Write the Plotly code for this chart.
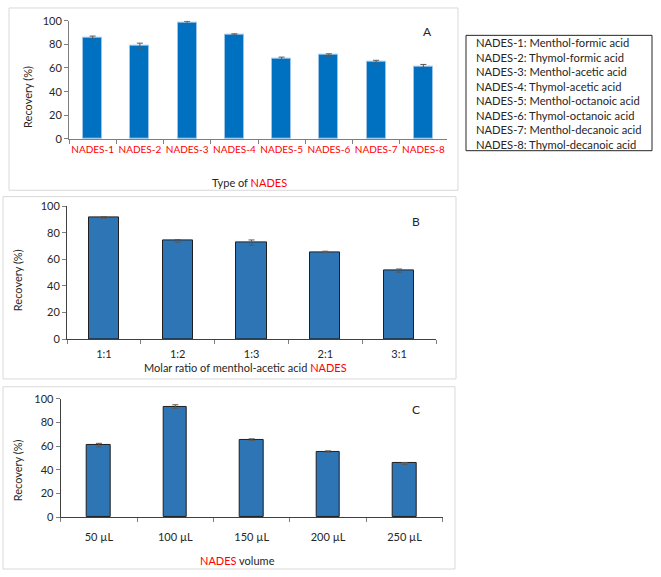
import plotly.graph_objects as go

W, H = 661, 577

# ---------------- data ----------------
nades_types = ["NADES-1", "NADES-2", "NADES-3", "NADES-4", "NADES-5", "NADES-6", "NADES-7", "NADES-8"]
recovery_a = [85.5, 78.5, 98.5, 88.3, 68.2, 71.0, 65.0, 61.0]
error_a = [1.5, 2.5, 1.0, 0.6, 1.0, 1.0, 1.5, 2.0]

molar_ratios = ["1:1", "1:2", "1:3", "2:1", "3:1"]
recovery_b = [91.7, 74.0, 72.7, 65.7, 51.6]
error_b = [0.6, 1.0, 2.0, 0.5, 1.2]

volumes = ["50 µL", "100 µL", "150 µL", "200 µL", "250 µL"]
recovery_c = [61.0, 93.6, 65.6, 55.5, 45.5]
error_c = [1.5, 1.5, 0.7, 0.6, 0.8]

legend_lines = [
    "NADES-1: Menthol-formic acid",
    "NADES-2: Thymol-formic acid",
    "NADES-3: Menthol-acetic acid",
    "NADES-4: Thymol-acetic acid",
    "NADES-5: Menthol-octanoic acid",
    "NADES-6: Thymol-octanoic acid",
    "NADES-7: Menthol-decanoic acid",
    "NADES-8: Thymol-decanoic acid",
]

FONT = "Lato, Carlito, 'Open Sans', sans-serif"
RED = "#FF0000"
TXT = "#262626"


def px(x):
    return x / W


def py(y):
    return 1 - y / H


fig = go.Figure()

# Panel A
fig.add_trace(go.Bar(
    x=nades_types, y=recovery_a, xaxis="x", yaxis="y", width=0.4,
    marker=dict(color="#0070C0", line=dict(color="#9DC3E6", width=1)),
    error_y=dict(type="data", array=error_a, color="#595959", thickness=1, width=3),
    showlegend=False,
))
# Panel B
fig.add_trace(go.Bar(
    x=molar_ratios, y=recovery_b, xaxis="x2", yaxis="y2", width=0.41,
    marker=dict(color="#2E75B6", line=dict(color="#1F1F1F", width=1)),
    error_y=dict(type="data", array=error_b, color="#595959", thickness=1, width=3),
    showlegend=False,
))
# Panel C
fig.add_trace(go.Bar(
    x=volumes, y=recovery_c, xaxis="x3", yaxis="y3", width=0.31,
    marker=dict(color="#2E75B6", line=dict(color="#1F1F1F", width=1)),
    error_y=dict(type="data", array=error_c, color="#595959", thickness=1, width=3),
    showlegend=False,
))

axis_common_x = dict(showline=True, linecolor="#7F7F7F", linewidth=1, ticks="outside",
                     tickson="boundaries", ticklen=4, tickcolor="#7F7F7F", tickangle=0,
                     showgrid=False, zeroline=False, fixedrange=True)
axis_common_y = dict(showline=True, linecolor="#7F7F7F", linewidth=1, ticks="outside",
                     ticklen=4, tickcolor="#7F7F7F", range=[0, 100], dtick=20,
                     showgrid=False, zeroline=False, fixedrange=True,
                     tickfont=dict(family=FONT, size=11, color=TXT))

layout = dict(
    width=W, height=H,
    margin=dict(l=0, r=0, t=0, b=0),
    paper_bgcolor="white", plot_bgcolor="white",
    bargap=0.0,
    font=dict(family=FONT, size=11, color=TXT),
    xaxis=dict(domain=[px(69), px(447)], anchor="y", ticklabelstandoff=1,
               tickfont=dict(family=FONT, size=10, color=RED), **axis_common_x),
    yaxis=dict(domain=[py(135), py(14)], anchor="x", **axis_common_y),
    xaxis2=dict(domain=[px(67), px(436)], anchor="y2", ticklabelstandoff=5,
                tickfont=dict(family=FONT, size=11, color=TXT), **axis_common_x),
    yaxis2=dict(domain=[py(339.7), py(204)], anchor="x2", **axis_common_y),
    xaxis3=dict(domain=[px(60.7), px(442.7)], anchor="y3", ticklabelstandoff=10,
                tickfont=dict(family=FONT, size=11, color=TXT), **axis_common_x),
    yaxis3=dict(domain=[py(522), py(401)], anchor="x3", **axis_common_y),
)
layout["xaxis2"]["linecolor"] = "#404040"
layout["yaxis2"]["linecolor"] = "#404040"
layout["xaxis3"]["linecolor"] = "#404040"
layout["yaxis3"]["linecolor"] = "#404040"
fig.update_layout(**layout)

shapes = []
FRAME = "#D9D9D9"
for (x0, y0, x1, y1) in [(9, 1, 458, 187.5), (3, 194, 456, 380.5), (3, 388.5, 455, 575)]:
    shapes.append(dict(type="rect", xref="paper", yref="paper",
                       x0=px(x0), x1=px(x1), y0=py(y1), y1=py(y0),
                       line=dict(color=FRAME, width=1), fillcolor="rgba(0,0,0,0)"))
# legend box
shapes.append(dict(type="rect", xref="paper", yref="paper",
                   x0=px(466), x1=px(652), y0=py(147), y1=py(29),
                   line=dict(color="#262626", width=1), fillcolor="rgba(0,0,0,0)"))
fig.update_layout(shapes=shapes)

ann = []


def add_text(x, y, text, size=11, angle=0, xanchor="center", color=TXT):
    ann.append(dict(x=px(x), y=py(y), xref="paper", yref="paper", text=text,
                    showarrow=False, xanchor=xanchor, yanchor="middle", textangle=angle,
                    font=dict(family=FONT, size=size, color=color)))


red_nades = "<span style='color:#FF0000'>NADES</span>"
add_text(249, 180, "Type of " + red_nades, size=11)
add_text(246, 369, "Molar ratio of menthol-acetic acid " + red_nades, size=11)
add_text(237, 566.5, red_nades + " volume", size=11)

add_text(28, 92, "Recovery (%)", size=11, angle=-90)
add_text(17, 279.5, "Recovery (%)", size=11, angle=-90)
add_text(17, 474, "Recovery (%)", size=11, angle=-90)

add_text(427, 25, "A", size=12)
add_text(416, 219, "B", size=12)
add_text(416, 412, "C", size=12)

ann.append(dict(x=px(474), y=py(88.8), xref="paper", yref="paper",
                text="<br>".join(legend_lines), align="left",
                showarrow=False, xanchor="left", yanchor="middle",
                font=dict(family=FONT, size=11.2, color=TXT)))

fig.update_layout(annotations=ann)

fig.write_html("out.html", config={"displayModeBar": False},
               post_script="document.body.style.margin='0';document.body.style.overflow='hidden';")
